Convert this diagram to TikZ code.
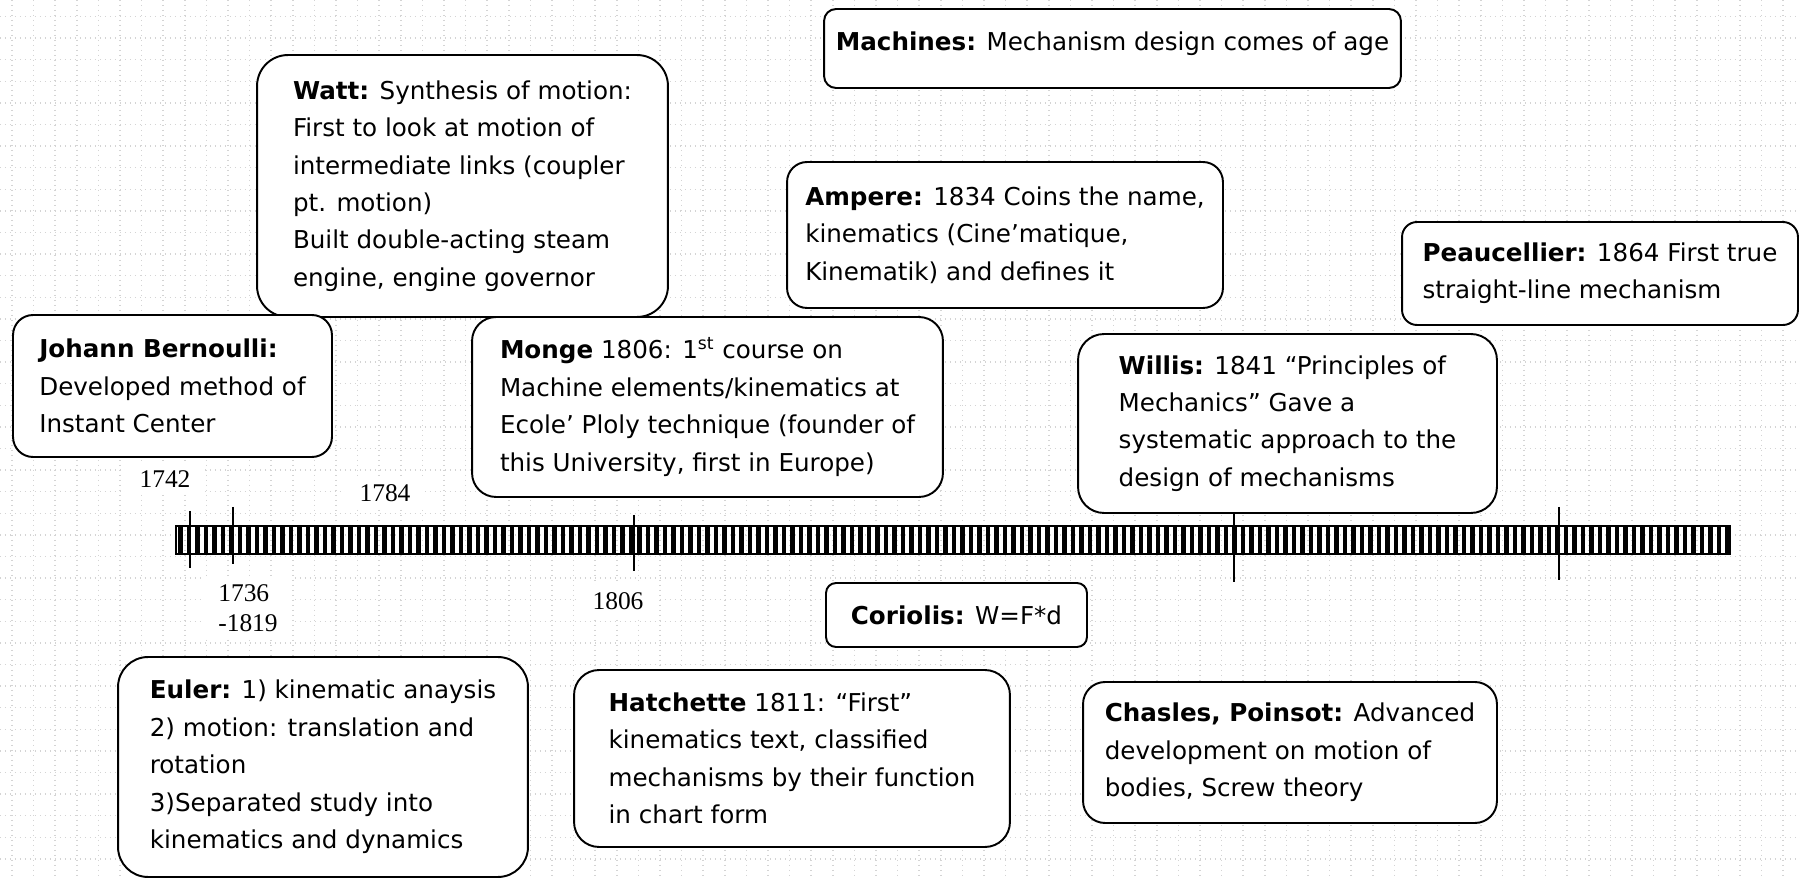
\documentclass[tikz,border=0pt]{standalone}
\usepackage{fontspec}
\setmainfont{DejaVu Sans}
\newfontfamily\yearfont{Liberation Serif}

\begin{document}
\begin{tikzpicture}[x=0.02cm, y=-0.02cm,
  evt/.style={draw, line width=1.1pt, fill=white, align=left, inner sep=0pt,
    font=\fontsize{14}{21.3}\selectfont},
  yr/.style={fill=white, inner xsep=8pt, inner ysep=4pt, align=left,
    font=\yearfont\fontsize{14.5}{17}\selectfont},
  yrtick/.style={line width=1.1pt},
  gridln/.style={black!17, line width=0.03cm, dash pattern=on 0.03cm off 0.07cm}]
\useasboundingbox (0,0) rectangle (1800,878);
\fill[white] (0,0) rectangle (1800,878);
% Graph paper
\foreach \i in {0,...,83} \draw[gridln] (12+\i*21.6,0) -- (12+\i*21.6,878);
\foreach \j in {0,...,40} \draw[gridln] (0,16.5+\j*21.6) -- (1800,16.5+\j*21.6);
% Year labels
\node[yr] (y1742) at (165,479) {1742};
\node[yr] (y1784) at (385,493) {1784};
\node[yr] (y1736) at (248,608) {1736\\-1819};
\node[yr] (y1806) at (618,601) {1806};
% Time line bar
\node[draw, line width=1.3pt, minimum width=31.08cm, minimum height=0.56cm, inner sep=0pt] (bar) at (953,540) {};
\foreach \i in {0,...,182} \fill (178+\i*8.5,527) rectangle ++(4.5,26);
% Ticks on the bar
\foreach \x/\a/\b in {190/511/568, 233/507/564, 634/515/571, 1234/513/582, 1559/507/580}
  \draw[yrtick] (\x,\a) -- (\x,\b);
% Events
\node[evt, minimum width=11.54cm, minimum height=1.58cm, rounded corners=0.24cm, text depth=0.3cm] (machines) at (1112.5,48.5)
  {\textbf{Machines:} Mechanism design comes of age};
\node[evt, minimum width=8.22cm, minimum height=5.24cm, rounded corners=0.62cm] (watt) at (462.5,186)
  {\textbf{Watt:} Synthesis of motion:\\First to look at motion of\\intermediate links (coupler\\pt. motion)\\Built double-acting steam\\engine, engine governor};
\node[evt, minimum width=8.72cm, minimum height=2.92cm, rounded corners=0.4cm] (ampere) at (1005,235)
  {\textbf{Ampere:} 1834 Coins the name,\\kinematics (Cine’matique,\\Kinematik) and defines it};
\node[evt, minimum width=7.92cm, minimum height=2.06cm, rounded corners=0.3cm] (peaucellier) at (1600,273.5)
  {\textbf{Peaucellier:} 1864 First true\\straight-line mechanism};
\node[evt, minimum width=6.38cm, minimum height=2.84cm, rounded corners=0.4cm] (bernoulli) at (172.5,386)
  {\textbf{Johann Bernoulli:}\\Developed method of\\Instant Center};
\node[evt, minimum width=9.42cm, minimum height=3.6cm, rounded corners=0.48cm] (monge) at (707.5,407)
  {\textbf{Monge} 1806: 1\textsuperscript{st} course on\\Machine elements/kinematics at\\Ecole’ Ploly technique (founder of\\this University, first in Europe)};
\node[evt, minimum width=8.38cm, minimum height=3.58cm, rounded corners=0.52cm] (willis) at (1287.5,423.5)
  {\textbf{Willis:} 1841 “Principles of\\Mechanics” Gave a\\systematic approach to the\\design of mechanisms};
\node[evt, minimum width=5.22cm, minimum height=1.28cm, rounded corners=0.2cm] (coriolis) at (956.5,615)
  {\textbf{Coriolis:} W=F*d};
\node[evt, minimum width=8.2cm, minimum height=4.4cm, rounded corners=0.6cm] (euler) at (323,767)
  {\textbf{Euler:} 1) kinematic anaysis\\2) motion: translation and\\rotation\\3)Separated study into\\kinematics and dynamics};
\node[evt, minimum width=8.72cm, minimum height=3.54cm, rounded corners=0.5cm] (hatchette) at (792,758.5)
  {\textbf{Hatchette} 1811: “First”\\kinematics text, classified\\mechanisms by their function\\in chart form};
\node[evt, minimum width=8.28cm, minimum height=2.82cm, rounded corners=0.44cm] (chasles) at (1290,752.5)
  {\textbf{Chasles, Poinsot:} Advanced\\development on motion of\\bodies, Screw theory};
\end{tikzpicture}
\end{document}
